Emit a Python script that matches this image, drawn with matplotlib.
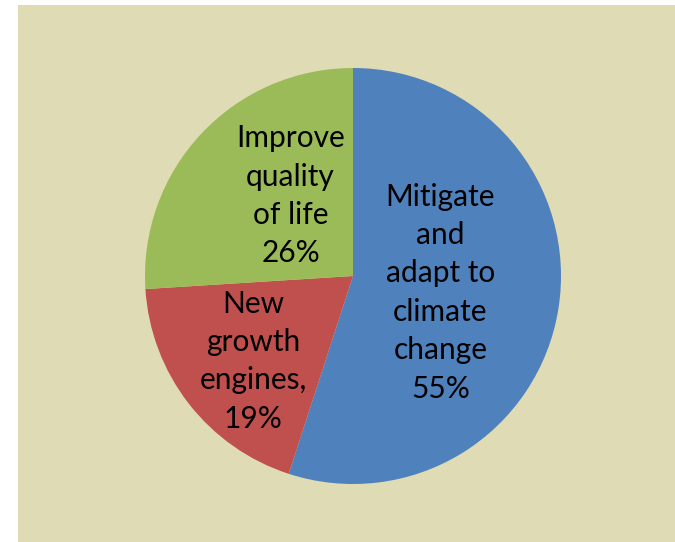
import matplotlib
matplotlib.use('Agg')
import matplotlib.pyplot as plt
from matplotlib.patches import Rectangle

plt.rcParams['font.family'] = ['Lato', 'DejaVu Sans']

labels = ['Mitigate\nand\nadapt to\nclimate\nchange\n55%',
          'New\ngrowth\nengines,\n19%',
          'Improve\nquality\nof life\n26%']
shares = [55, 19, 26]
colors = ['#4F81BD', '#C0504D', '#9BBB59']
label_pos = [(0.42, -0.08), (-0.48, -0.41), (-0.30, 0.385)]

W, H = 675, 542
fig = plt.figure(figsize=(W / 100, H / 100), dpi=100)
fig.patch.set_facecolor('white')
# chart area background
fig.add_artist(Rectangle((18 / W, 0), 1 - 18 / W, 1 - 5 / H,
                         transform=fig.transFigure, facecolor='#DFDBB5',
                         edgecolor='none', zorder=0))

cx, cy, r = 353, 276, 208
ax = fig.add_axes([(cx - r) / W, (H - cy - r) / H, 2 * r / W, 2 * r / H])
ax.set_facecolor('none')
ax.pie(shares, colors=colors, startangle=90, counterclock=False, radius=1,
       wedgeprops=dict(linewidth=0))
for text, (x, y) in zip(labels, label_pos):
    ax.text(x, y, text, ha='center', va='center', fontsize=21.5,
            linespacing=1.45, color='black')
ax.set_xlim(-1, 1)
ax.set_ylim(-1, 1)
ax.set_aspect('equal')
ax.axis('off')

fig.savefig('out.png', dpi=100)
